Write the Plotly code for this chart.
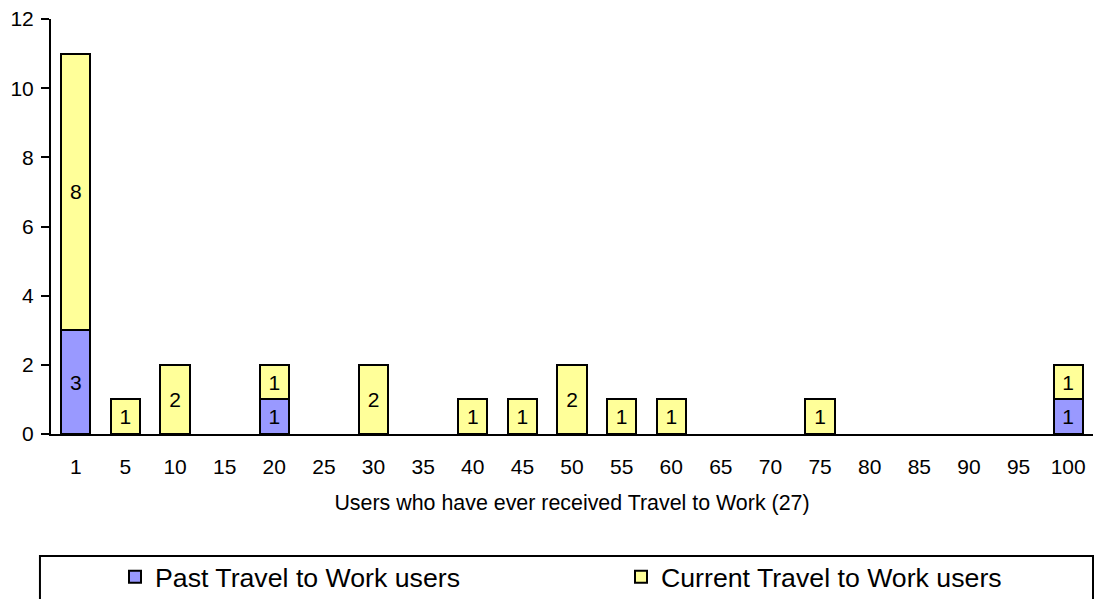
import plotly.graph_objects as go

categories = ["1", "5", "10", "15", "20", "25", "30", "35", "40", "45", "50",
              "55", "60", "65", "70", "75", "80", "85", "90", "95", "100"]
past_users = [3, 0, 0, 0, 1, 0, 0, 0, 0, 0, 0, 0, 0, 0, 0, 0, 0, 0, 0, 0, 1]
current_users = [8, 1, 2, 0, 1, 0, 2, 0, 1, 1, 2, 1, 1, 0, 0, 1, 0, 0, 0, 0, 1]
y_ticks = [0, 2, 4, 6, 8, 10, 12]

FONT = "Liberation Sans, Arial, sans-serif"
W, H = 1098, 599


def nz(vals):
    return [v if v else None for v in vals]


def labels(vals):
    return [str(v) if v else "" for v in vals]


fig = go.Figure()
fig.add_trace(go.Bar(
    x=categories, y=nz(past_users), name="Past Travel to Work users",
    marker=dict(color="#9999FF", line=dict(color="black", width=2)),
    text=labels(past_users), textposition="inside", insidetextanchor="middle",
    textangle=0, constraintext="none",
    textfont=dict(family=FONT, size=21, color="black"),
    legend="legend",
))
fig.add_trace(go.Bar(
    x=categories, y=nz(current_users), name="Current Travel to Work users",
    marker=dict(color="#FFFF99", line=dict(color="black", width=2)),
    text=labels(current_users), textposition="inside", insidetextanchor="middle",
    textangle=0, constraintext="none",
    textfont=dict(family=FONT, size=21, color="black"),
    legend="legend2",
))

leg_common = dict(
    orientation="h", xanchor="left", yanchor="middle",
    xref="container", yref="container",
    font=dict(family=FONT, size=26.7, color="black"),
    bgcolor="rgba(0,0,0,0)", borderwidth=0,
)

fig.update_layout(
    barmode="stack",
    bargap=0.41,
    width=W, height=H,
    margin=dict(l=51, r=5, t=19, b=165),
    paper_bgcolor="white", plot_bgcolor="white",
    font=dict(family=FONT, size=21, color="black"),
    showlegend=True,
    legend=dict(x=115 / W, y=1 - 577 / H, **leg_common),
    legend2=dict(x=621 / W, y=1 - 577 / H, **leg_common),
    xaxis=dict(
        type="category", showline=True, linecolor="black", linewidth=2,
        ticks="", showgrid=False, zeroline=False,
        tickfont=dict(family=FONT, size=21), ticklabelstandoff=13,
        title=dict(text="Users who have ever received Travel to Work (27)",
                   font=dict(family=FONT, size=21.4), standoff=18),
    ),
    yaxis=dict(
        range=[0, 12], tickvals=y_ticks, showline=True, linecolor="black",
        linewidth=2, ticks="outside", ticklen=8, tickwidth=2,
        tickcolor="black", showgrid=False, zeroline=False,
        tickfont=dict(family=FONT, size=21), ticklabelstandoff=3,
    ),
    shapes=[dict(type="rect", xref="paper", yref="paper",
                 x0=-0.0106, x1=1.0, y0=-0.294, y1=-0.6,
                 line=dict(color="black", width=2), fillcolor="rgba(0,0,0,0)")],
)

fig.write_html("out.html", config={"displayModeBar": False},
               post_script="document.body.style.margin='0';")
